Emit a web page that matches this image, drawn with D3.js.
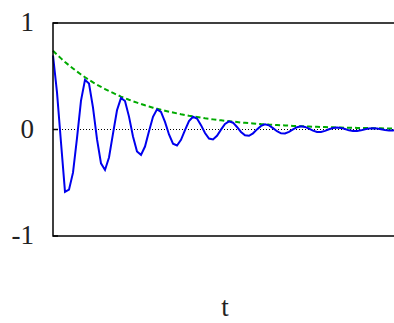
<!DOCTYPE html>
<html>
<head>
<meta charset="utf-8">
<script src="https://cdn.jsdelivr.net/npm/d3@7.9.0/dist/d3.min.js"></script>
<style>
  html, body { margin: 0; padding: 0; background: #fff; overflow: hidden; }
  svg { display: block; }
  text { font-family: "Liberation Serif", "DejaVu Serif", serif; fill: #222; }
</style>
</head>
<body>
<svg id="chart" width="394" height="323"></svg>
<script>
// sample index (one step ~ 4px in the reference)
const tValues = d3.range(0, 87);

// damped oscillation
const signal = [
  0.695, 0.348, -0.122, -0.585, -0.565, -0.405, -0.081, 0.271, 0.466, 0.432,
  0.206, -0.091, -0.318, -0.380, -0.263, -0.039, 0.181, 0.297, 0.268, 0.121,
  -0.066, -0.206, -0.238, -0.160, -0.017, 0.119, 0.189, 0.166, 0.071, -0.047,
  -0.133, -0.150, -0.097, -0.006, 0.079, 0.120, 0.103, 0.041, -0.033, -0.085,
  -0.094, -0.059, -0.001, 0.052, 0.077, 0.064, 0.024, -0.023, -0.055, -0.059,
  -0.036, 0.001, 0.034, 0.049, 0.039, 0.013, -0.016, -0.036, -0.037, -0.022,
  0.002, 0.022, 0.031, 0.024, 0.008, -0.011, -0.023, -0.023, -0.013, 0.002,
  0.014, 0.019, 0.015, 0.004, -0.008, -0.015, -0.014, -0.008, 0.002, 0.010,
  0.012, 0.009, 0.002, -0.005, -0.009, -0.009, -0.005
];

// decaying envelope (green dashed)
const envelope = [
  0.740, 0.703, 0.668, 0.634, 0.603, 0.573, 0.544, 0.517, 0.491, 0.466,
  0.443, 0.421, 0.400, 0.380, 0.361, 0.343, 0.326, 0.309, 0.294, 0.279,
  0.265, 0.252, 0.239, 0.227, 0.216, 0.205, 0.195, 0.185, 0.176, 0.167,
  0.159, 0.151, 0.143, 0.136, 0.129, 0.123, 0.117, 0.111, 0.105, 0.100,
  0.095, 0.090, 0.086, 0.082, 0.078, 0.074, 0.070, 0.066, 0.063, 0.060,
  0.057, 0.054, 0.051, 0.049, 0.046, 0.044, 0.042, 0.040, 0.038, 0.036,
  0.034, 0.032, 0.031, 0.029, 0.028, 0.026, 0.025, 0.024, 0.023, 0.021,
  0.020, 0.019, 0.018, 0.017, 0.017, 0.016, 0.015, 0.014, 0.013, 0.013,
  0.012, 0.011, 0.011, 0.010, 0.010, 0.009, 0.009
];

const yTicks = [-1, 0, 1];
const yTickLabels = ['-1', '0', '1'];
const xLabel = 't';

const plotLeft = 53, plotRight = 397, plotTop = 23, plotBottom = 236;

const x = d3.scaleLinear().domain([0, 86]).range([plotLeft, plotRight]);
const y = d3.scaleLinear().domain([-1, 1]).range([plotBottom, plotTop]);

const svg = d3.select('#chart');

// zero line (dotted)
svg.append('line')
  .attr('x1', plotLeft).attr('x2', plotRight)
  .attr('y1', y(0)).attr('y2', y(0))
  .attr('stroke', '#000')
  .attr('stroke-width', 1)
  .attr('stroke-dasharray', '1 2');

const line = d3.line()
  .x((d, i) => x(tValues[i]))
  .y((d) => y(d));

// envelope
svg.append('path')
  .attr('d', line(envelope))
  .attr('fill', 'none')
  .attr('stroke', '#00aa00')
  .attr('stroke-width', 2)
  .attr('stroke-dasharray', '5 3');

// oscillation
svg.append('path')
  .attr('d', line(signal))
  .attr('fill', 'none')
  .attr('stroke', '#0000ee')
  .attr('stroke-width', 2);

// frame
svg.append('rect')
  .attr('x', plotLeft).attr('y', plotTop)
  .attr('width', plotRight - plotLeft).attr('height', plotBottom - plotTop)
  .attr('fill', 'none')
  .attr('stroke', '#000')
  .attr('stroke-width', 1.5);

// y ticks + labels
yTicks.forEach((v, i) => {
  svg.append('line')
    .attr('x1', plotLeft).attr('x2', plotLeft + 5)
    .attr('y1', y(v)).attr('y2', y(v))
    .attr('stroke', '#000')
    .attr('stroke-width', 1.5);
  svg.append('text')
    .attr('x', 34)
    .attr('y', y(v) - 1)
    .attr('text-anchor', 'end')
    .attr('dominant-baseline', 'central')
    .attr('font-size', 27)
    .text(yTickLabels[i]);
});

// x label
svg.append('text')
  .attr('x', (plotLeft + plotRight) / 2)
  .attr('y', 316)
  .attr('text-anchor', 'middle')
  .attr('font-size', 27)
  .text(xLabel);
</script>
</body>
</html>
